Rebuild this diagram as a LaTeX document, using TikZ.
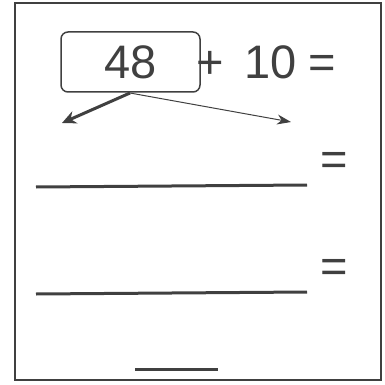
\documentclass[tikz,border=0pt]{standalone}
\usepackage{fontspec}
\setmainfont{Liberation Sans}
\usetikzlibrary{arrows.meta}
\definecolor{ink}{gray}{0.25}

\begin{document}
\begin{tikzpicture}[x=1pt,y=-1pt,
  every node/.style={text=ink,font=\fontsize{47}{47}\selectfont},
  numbox/.style={draw=ink,line width=1.5pt,rounded corners=7pt,minimum width=139pt,minimum height=60pt,inner sep=0pt},
  blank/.style={draw=ink,line width=3pt}]
			\useasboundingbox (0,0) rectangle (384,385);
			\draw[ink,line width=2pt](15,3) rectangle (381,380);

			\node[numbox] (box) at (130.5,62) {48};
			\node[anchor=west,inner sep=0pt] (sum) at ([xshift=-4pt]box.east) {+\hspace{20pt}10\hspace{12pt}=};

			\coordinate (split) at (130,93);
			\coordinate (left) at (62,123);
			\coordinate (right) at (291,122);
			\draw[ink,line width=3pt,-{Stealth[length=14pt,width=13pt]}](split)--(left);
			\draw[ink,line width=1pt,-{Stealth[length=14pt,width=10pt]}](split)--(right);

			\node (eqa) at (334,164) {=};
			\draw[blank](36,187)--(307,185);
			\node (eqb) at (334,271) {=};
			\draw[blank](36,294)--(307,292);
			\draw[blank](135,369)--(218,369);
			\end{tikzpicture}
\end{document}
